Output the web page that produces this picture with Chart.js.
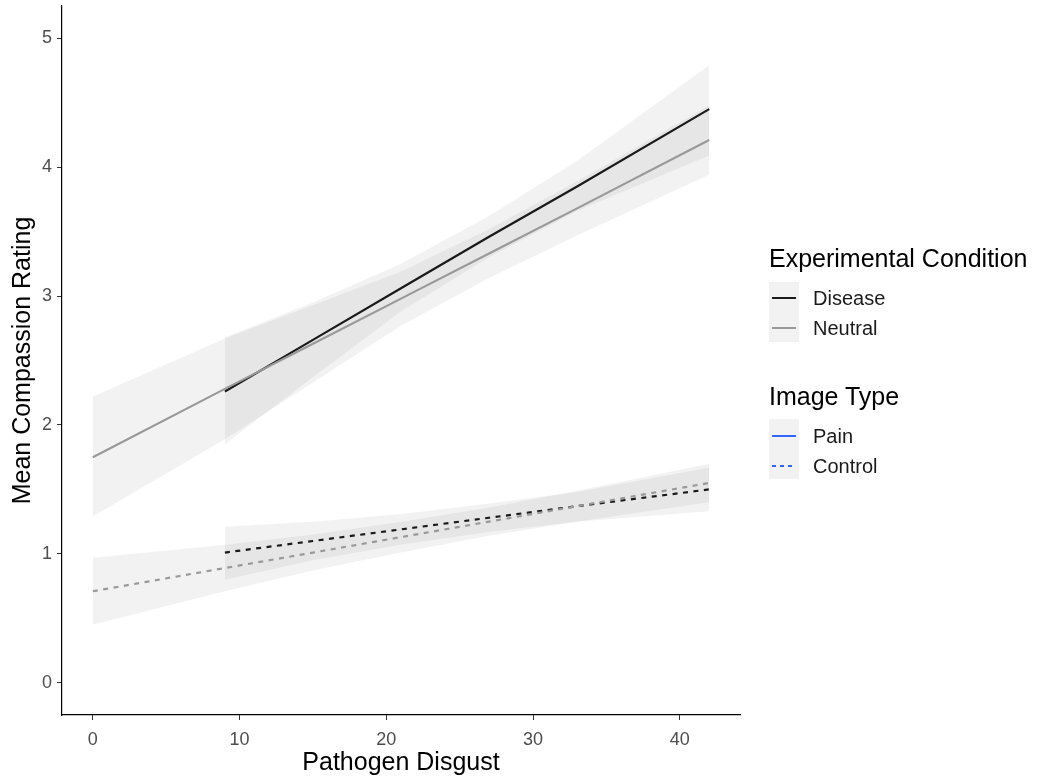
<!DOCTYPE html>
<html>
<head>
<meta charset="utf-8">
<script src="https://cdn.jsdelivr.net/npm/chart.js@4.4.1/dist/chart.umd.min.js"></script>
<style>
  html, body { margin: 0; padding: 0; background: #ffffff; }
  #wrap { position: relative; width: 1037px; height: 782px; font-family: "Liberation Sans", Arial, sans-serif; }
  #c { position: absolute; left: 0; top: 0; }
  .lg-title { position: absolute; left: 769px; font-size: 25px; color: #000; white-space: nowrap; line-height: 30px; }
  .lg-box { position: absolute; left: 769px; width: 30px; height: 60px; background: #f2f2f2; }
  .lg-label { position: absolute; left: 813px; font-size: 20px; color: #1a1a1a; line-height: 24px; white-space: nowrap; }
  .lg-key { position: absolute; left: 772px; width: 24px; height: 2px; }
</style>
</head>
<body>
<div id="wrap">
  <canvas id="c" width="1037" height="782"></canvas>
  <div class="lg-title" style="top:243px;">Experimental Condition</div>
  <div class="lg-box" style="top:282px;"></div>
  <div class="lg-key" style="top:297px; background:#1a1a1a;"></div>
  <div class="lg-key" style="top:327px; background:#999999;"></div>
  <div class="lg-label" style="top:286px;">Disease</div>
  <div class="lg-label" style="top:316px;">Neutral</div>

  <div class="lg-title" style="top:381px;">Image Type</div>
  <div class="lg-box" style="top:419px;"></div>
  <div class="lg-key" style="top:435px; background:#3366ff;"></div>
  <svg style="position:absolute; left:772px; top:464px;" width="24" height="4">
    <line x1="0" y1="2" x2="24" y2="2" stroke="#3366ff" stroke-width="2" stroke-dasharray="4,4"></line>
  </svg>
  <div class="lg-label" style="top:424px;">Pain</div>
  <div class="lg-label" style="top:454px;">Control</div>
</div>
<script>
// ---- data ----
const xTickValues = [0, 10, 20, 30, 40];
const yTickValues = [0, 1, 2, 3, 4, 5];

const neutralX = [0, 9, 15, 21, 27, 33, 42];
const diseaseX = [9, 15, 21, 27, 33, 42];

const neutralPainFit   = [1.75, 2.28, 2.63, 2.98, 3.33, 3.68, 4.21];
const neutralPainLower = [1.29, 1.89, 2.33, 2.77, 3.14, 3.47, 3.94];
const neutralPainUpper = [2.22, 2.67, 2.93, 3.19, 3.52, 3.89, 4.48];

const diseasePainFit   = [2.26, 2.66, 3.06, 3.46, 3.85, 4.45];
const diseasePainLower = [1.85, 2.37, 2.88, 3.30, 3.66, 4.09];
const diseasePainUpper = [2.68, 2.95, 3.25, 3.62, 4.05, 4.79];

const neutralControlFit   = [0.71, 0.89, 1.01, 1.13, 1.25, 1.37, 1.55];
const neutralControlLower = [0.45, 0.71, 0.87, 1.01, 1.14, 1.25, 1.40];
const neutralControlUpper = [0.97, 1.07, 1.15, 1.25, 1.36, 1.49, 1.70];

const diseaseControlFit   = [1.01, 1.10, 1.19, 1.28, 1.37, 1.50];
const diseaseControlLower = [0.80, 0.95, 1.07, 1.17, 1.25, 1.33];
const diseaseControlUpper = [1.21, 1.25, 1.31, 1.39, 1.48, 1.67];

// ---- build ----
function pts(xs, ys) { return xs.map((x, i) => ({ x: x, y: ys[i] })); }
const bandFill = 'rgba(0,0,0,0.05)';
const datasets = [];
function addSeries(xs, fit, lo, hi, color, dashed) {
  const loIdx = datasets.length;
  datasets.push({ data: pts(xs, lo), borderWidth: 0, pointRadius: 0, fill: false, order: 2, borderColor: 'rgba(0,0,0,0)' });
  datasets.push({ data: pts(xs, hi), borderWidth: 0, pointRadius: 0, fill: loIdx, backgroundColor: bandFill, order: 2, borderColor: 'rgba(0,0,0,0)' });
  datasets.push({ data: pts(xs, fit), borderWidth: 2.2, pointRadius: 0, fill: false, borderColor: color, borderDash: dashed ? [5, 5.5] : [], order: 0 });
}
addSeries(neutralX, neutralPainFit, neutralPainLower, neutralPainUpper, '#999999', false);
addSeries(diseaseX, diseasePainFit, diseasePainLower, diseasePainUpper, '#1a1a1a', false);
addSeries(neutralX, neutralControlFit, neutralControlLower, neutralControlUpper, '#999999', true);
addSeries(diseaseX, diseaseControlFit, diseaseControlLower, diseaseControlUpper, '#1a1a1a', true);

const fontFam = '"Liberation Sans", Arial, sans-serif';

new Chart(document.getElementById('c'), {
  type: 'line',
  data: { datasets: datasets },
  options: {
    responsive: false,
    animation: false,
    events: [],
    layout: { padding: { top: 6, right: 297, left: 0, bottom: 0 } },
    plugins: {
      legend: { display: false },
      tooltip: { enabled: false },
      filler: { drawTime: 'beforeDatasetsDraw', propagate: false }
    },
    elements: { line: { tension: 0 } },
    scales: {
      x: {
        type: 'linear',
        min: -2.1, max: 44.1,
        afterBuildTicks: (s) => { s.ticks = xTickValues.map(v => ({ value: v })); },
        afterFit: (s) => { s.height = 67; s.paddingLeft = 0; s.paddingRight = 0; },
        ticks: { color: '#4d4d4d', font: { size: 18, family: fontFam }, padding: 9, maxRotation: 0, autoSkip: false,
                 callback: (v) => String(v) },
        grid: { display: true, drawOnChartArea: false, drawTicks: true, tickLength: 5, color: '#333333', lineWidth: 1 },
        border: { display: true, color: '#000000', width: 1.2 },
        title: { display: true, text: 'Pathogen Disgust', color: '#000', font: { size: 25, family: fontFam }, padding: { top: 0, bottom: 4 } }
      },
      y: {
        type: 'linear',
        min: -0.25, max: 5.25,
        afterBuildTicks: (s) => { s.ticks = yTickValues.map(v => ({ value: v })); },
        afterFit: (s) => { s.width = 62; s.paddingTop = 0; s.paddingBottom = 0; },
        ticks: { color: '#4d4d4d', font: { size: 18, family: fontFam }, padding: 5, autoSkip: false,
                 callback: (v) => String(v) },
        grid: { display: true, drawOnChartArea: false, drawTicks: true, tickLength: 5, color: '#333333', lineWidth: 1 },
        border: { display: true, color: '#000000', width: 1.2 },
        title: { display: true, text: 'Mean Compassion Rating', color: '#000', font: { size: 25, family: fontFam }, padding: { top: 8, bottom: 0 } }
      }
    }
  }
});
</script>
</body>
</html>
